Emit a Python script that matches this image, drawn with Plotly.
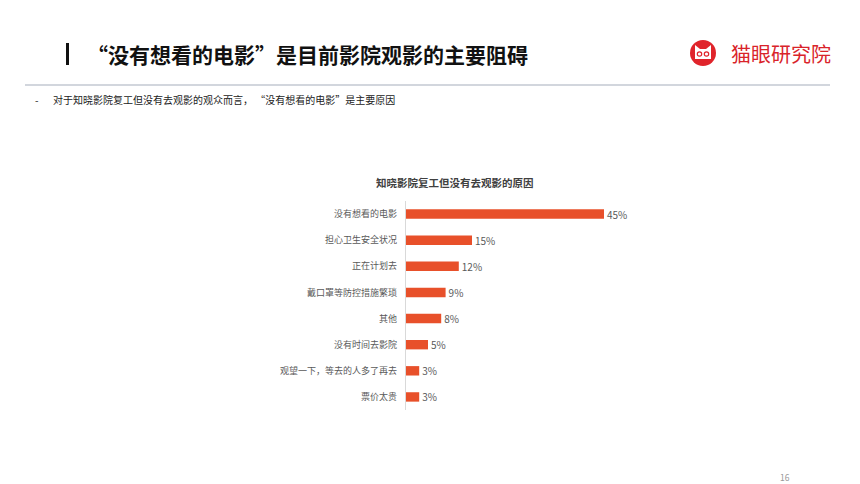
import plotly.graph_objects as go

categories = ["没有想看的电影", "担心卫生安全状况", "正在计划去", "戴口罩等防控措施繁琐",
              "其他", "没有时间去影院", "观望一下，等去的人多了再去", "票价太贵"]
values = [45, 15, 12, 9, 8, 5, 3, 3]
value_labels = ["45%", "15%", "12%", "9%", "8%", "5%", "3%", "3%"]

OFF = 8  # browser body margin
W, H = 860 - OFF, 484 - OFF
FONT = "Noto Sans CJK SC"
BAR = "#e8502a"
GRAY = "#595959"


def px(x):
    return (x - OFF) / W


def py(y):
    return 1 - (y - OFF) / H


fig = go.Figure(go.Bar(
    y=categories, x=values, orientation="h",
    marker=dict(color=BAR, line=dict(width=0)),
    width=0.36,
    text=value_labels, textposition="outside", cliponaxis=False,
    constraintext="none",
    textfont=dict(family=FONT, size=10, color=GRAY),
))

fig.update_layout(
    width=W, height=H, margin=dict(l=0, r=0, t=0, b=0),
    paper_bgcolor="white", plot_bgcolor="white",
    showlegend=False,
    font=dict(family=FONT),
    xaxis=dict(domain=[px(406), px(626)], range=[0, 50], visible=False),
    yaxis=dict(domain=[py(410), py(201)], autorange="reversed",
               showgrid=False, zeroline=False,
               showline=False, ticks="", ticklabelstandoff=8,
               tickfont=dict(family=FONT, size=9, color=GRAY)),
)

# vertical axis line
fig.add_shape(type="line", xref="paper", yref="paper",
              x0=px(405.5), x1=px(405.5), y0=py(410), y1=py(201),
              line=dict(color="#d9d9d9", width=1))

# header separator line
fig.add_shape(type="line", xref="paper", yref="paper",
              x0=px(25), x1=px(830), y0=py(85), y1=py(85),
              line=dict(color="#a5aebb", width=1.2))

# main title bar "|"
fig.add_shape(type="rect", xref="paper", yref="paper",
              x0=px(66), x1=px(69), y0=py(65), y1=py(43),
              fillcolor="#111111", line=dict(width=0))

fig.add_annotation(xref="paper", yref="paper", x=px(85), y=py(54),
                   xanchor="left", yanchor="middle", showarrow=False,
                   text="<b>“没有想看的电影”是目前影院观影的主要阻碍</b>",
                   font=dict(family=FONT, size=21, color="#111111"))

fig.add_annotation(xref="paper", yref="paper", x=px(33), y=py(100),
                   xanchor="left", yanchor="middle", showarrow=False,
                   text="-", font=dict(family=FONT, size=10, color="#222222"))
fig.add_annotation(xref="paper", yref="paper", x=px(51), y=py(100),
                   xanchor="left", yanchor="middle", showarrow=False,
                   text="对于知晓影院复工但没有去观影的观众而言， “没有想看的电影”是主要原因",
                   font=dict(family=FONT, size=10, color="#222222"))

# chart title
fig.add_annotation(xref="paper", yref="paper", x=px(455), y=py(182),
                   xanchor="center", yanchor="middle", showarrow=False,
                   text="<b>知晓影院复工但没有去观影的原因</b>",
                   font=dict(family=FONT, size=10.5, color="#404040"))

# logo
cx, cy, r = 703, 53, 13
fig.add_shape(type="circle", xref="paper", yref="paper",
              x0=px(cx - r), x1=px(cx + r), y0=py(cy + r), y1=py(cy - r),
              fillcolor="#e0242b", line=dict(width=0))
# cat head (white)
fig.add_shape(type="path", xref="paper", yref="paper",
              path=" ".join([
                  f"M {px(cx-8)} {py(cy+6)}",
                  f"L {px(cx-8)} {py(cy-8)}",
                  f"L {px(cx-3)} {py(cy-4)}",
                  f"L {px(cx+3)} {py(cy-4)}",
                  f"L {px(cx+8)} {py(cy-8)}",
                  f"L {px(cx+8)} {py(cy+6)}",
                  "Z"]),
              fillcolor="white", line=dict(width=0))
for ex in (cx - 3.5, cx + 3.5):
    fig.add_shape(type="circle", xref="paper", yref="paper",
                  x0=px(ex - 2.2), x1=px(ex + 2.2),
                  y0=py(cy + 3.2), y1=py(cy - 1.2),
                  fillcolor="white", line=dict(color="#e0242b", width=1.2))
fig.add_annotation(xref="paper", yref="paper", x=px(729), y=py(53),
                   xanchor="left", yanchor="middle", showarrow=False,
                   text="猫眼研究院",
                   font=dict(family=FONT, size=20, color="#d9232a"))

# page number
fig.add_annotation(xref="paper", yref="paper", x=px(785), y=py(477),
                   xanchor="center", yanchor="middle", showarrow=False,
                   text="16", font=dict(family=FONT, size=8.5, color="#999999"))

fig.write_html("out.html")
